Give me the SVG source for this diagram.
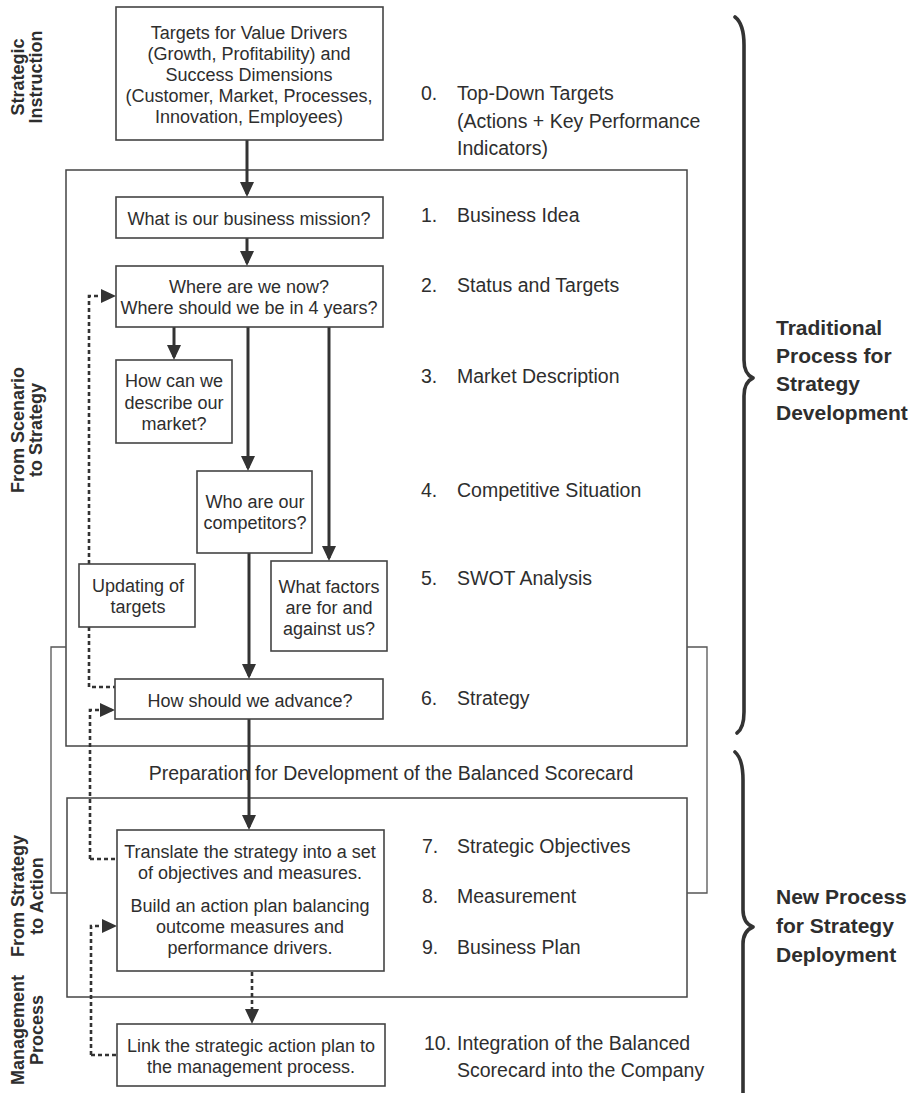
<svg xmlns="http://www.w3.org/2000/svg" width="919" height="1093" viewBox="0 0 919 1093">
<style>
text{font-family:"Liberation Sans",Arial,sans-serif;fill:#2e2e2e}
.bx{font-size:18px;text-anchor:middle}
.rc{font-size:19.5px}
.side{font-size:18px;font-weight:bold;text-anchor:middle}
.grp{font-size:21px;font-weight:bold}
.box{fill:#fff;stroke:#444;stroke-width:1.6}
.frame{fill:none;stroke:#444;stroke-width:1.5}
.thin{fill:none;stroke:#555;stroke-width:1.3}
.arr{fill:none;stroke:#333;stroke-width:3;marker-end:url(#ah)}
.dash{fill:none;stroke:#333;stroke-width:2.6;stroke-dasharray:4 3}
.dasharr{fill:none;stroke:#333;stroke-width:2.6;stroke-dasharray:4 3;marker-end:url(#ah)}
.brace{fill:none;stroke:#333;stroke-width:3.6;stroke-linecap:round;stroke-linejoin:round}
</style>
<defs>
<marker id="ah" viewBox="0 0 15 14" refX="12" refY="7" markerWidth="15" markerHeight="14" markerUnits="userSpaceOnUse" orient="auto">
<path d="M0,0 L15,7 L0,14 Z" fill="#333"/>
</marker>
</defs>
<rect width="919" height="1093" fill="#fff"/>

<g id="frames">
<rect class="frame" x="66" y="170" width="621" height="576"/>
<rect class="frame" x="67" y="798" width="620" height="199"/>
<path class="thin" d="M66,647 H51 V893 H67"/>
<path class="thin" d="M687,647 H707 V893 H687"/>
</g>

<g id="side-labels">
<text class="side" transform="translate(24,77) rotate(-90)">Strategic</text>
<text class="side" transform="translate(42,77) rotate(-90)">Instruction</text>
<text class="side" transform="translate(24,430) rotate(-90)">From Scenario</text>
<text class="side" transform="translate(42,430) rotate(-90)">to Strategy</text>
<text class="side" transform="translate(24,896) rotate(-90)">From Strategy</text>
<text class="side" transform="translate(43,896) rotate(-90)">to Action</text>
<text class="side" transform="translate(24,1030) rotate(-90)">Management</text>
<text class="side" transform="translate(43,1030) rotate(-90)">Process</text>
</g>

<g id="connectors">
<path class="arr" d="M247,140 V194"/>
<path class="arr" d="M247,238 V263"/>
<path class="arr" d="M174,327 V357"/>
<path class="arr" d="M248,327 V468"/>
<path class="arr" d="M329,327 V558"/>
<path class="arr" d="M249,553 V676"/>
<path class="arr" d="M249,719 V827"/>
<path class="dasharr" d="M252,972 V1021"/>
<path class="dasharr" d="M89,564 V296 H113"/>
<path class="dash" d="M89,627 V687 H115"/>
<path class="dasharr" d="M90,859 V710 H112"/>
<path class="dash" d="M90,859 H117"/>
<path class="dasharr" d="M91,1055 V926 H114"/>
<path class="dash" d="M91,1055 H117"/>
</g>

<g id="n0">
<rect class="box" x="116" y="7" width="267" height="133"/>
<text class="bx" x="249" y="39">Targets for Value Drivers</text>
<text class="bx" x="249" y="60">(Growth, Profitability) and</text>
<text class="bx" x="249" y="81">Success Dimensions</text>
<text class="bx" x="249" y="102">(Customer, Market, Processes,</text>
<text class="bx" x="249" y="123">Innovation, Employees)</text>
</g>
<g id="n1">
<rect class="box" x="116" y="197" width="267" height="41"/>
<text class="bx" x="249" y="225">What is our business mission?</text>
</g>
<g id="n2">
<rect class="box" x="116" y="266" width="267" height="61"/>
<text class="bx" x="249" y="293">Where are we now?</text>
<text class="bx" x="249" y="314">Where should we be in 4 years?</text>
</g>
<g id="n3">
<rect class="box" x="116" y="360" width="116" height="83"/>
<text class="bx" x="174" y="387">How can we</text>
<text class="bx" x="174" y="409">describe our</text>
<text class="bx" x="174" y="430">market?</text>
</g>
<g id="n4">
<rect class="box" x="197" y="471" width="115" height="82"/>
<text class="bx" x="255" y="508">Who are our</text>
<text class="bx" x="255" y="529">competitors?</text>
</g>
<g id="n-update">
<rect class="box" x="79" y="564" width="116" height="63"/>
<text class="bx" x="138" y="592">Updating of</text>
<text class="bx" x="138" y="613">targets</text>
</g>
<g id="n5">
<rect class="box" x="271" y="561" width="116" height="90"/>
<text class="bx" x="329" y="593">What factors</text>
<text class="bx" x="329" y="614">are for and</text>
<text class="bx" x="329" y="635">against us?</text>
</g>
<g id="n6">
<rect class="box" x="115" y="679" width="268" height="40"/>
<text class="bx" x="250" y="707">How should we advance?</text>
</g>
<g id="n7">
<rect class="box" x="117" y="830" width="267" height="141"/>
<text class="bx" x="250" y="858">Translate the strategy into a set</text>
<text class="bx" x="250" y="879">of objectives and measures.</text>
<text class="bx" x="250" y="912">Build an action plan balancing</text>
<text class="bx" x="250" y="933">outcome measures and</text>
<text class="bx" x="250" y="954">performance drivers.</text>
</g>
<g id="n10">
<rect class="box" x="117" y="1024" width="268" height="62"/>
<text class="bx" x="251" y="1052">Link the strategic action plan to</text>
<text class="bx" x="251" y="1073">the management process.</text>
</g>

<g id="prep-label">
<text class="rc" x="391" y="780" text-anchor="middle">Preparation for Development of the Balanced Scorecard</text>
</g>

<g id="steps">
<text class="rc" x="421" y="100">0.</text><text class="rc" x="457" y="100">Top-Down Targets</text>
<text class="rc" x="457" y="128">(Actions + Key Performance</text>
<text class="rc" x="457" y="155">Indicators)</text>
<text class="rc" x="421" y="222">1.</text><text class="rc" x="457" y="222">Business Idea</text>
<text class="rc" x="421" y="292">2.</text><text class="rc" x="457" y="292">Status and Targets</text>
<text class="rc" x="421" y="383">3.</text><text class="rc" x="457" y="383">Market Description</text>
<text class="rc" x="421" y="497">4.</text><text class="rc" x="457" y="497">Competitive Situation</text>
<text class="rc" x="421" y="585">5.</text><text class="rc" x="457" y="585">SWOT Analysis</text>
<text class="rc" x="421" y="705">6.</text><text class="rc" x="457" y="705">Strategy</text>
<text class="rc" x="422" y="853">7.</text><text class="rc" x="457" y="853">Strategic Objectives</text>
<text class="rc" x="422" y="903">8.</text><text class="rc" x="457" y="903">Measurement</text>
<text class="rc" x="422" y="954">9.</text><text class="rc" x="457" y="954">Business Plan</text>
<text class="rc" x="424" y="1050">10.</text><text class="rc" x="457" y="1050">Integration of the Balanced</text>
<text class="rc" x="457" y="1077">Scorecard into the Company</text>
</g>

<g id="brace-traditional">
<path class="brace" d="M735,17 Q744,24 744,45 L744,360 Q744,374 753,378 Q744,382 744,396 L744,712 Q744,728 737,733"/>
<text class="grp" x="776" y="335">Traditional</text>
<text class="grp" x="776" y="363">Process for</text>
<text class="grp" x="776" y="391">Strategy</text>
<text class="grp" x="776" y="420">Development</text>
</g>
<g id="brace-new">
<path class="brace" d="M735,752 Q743,759 743,780 L743,910 Q743,923 753,927 Q743,931 743,944 L743,1095"/>
<text class="grp" x="776" y="904">New Process</text>
<text class="grp" x="776" y="933">for Strategy</text>
<text class="grp" x="776" y="962">Deployment</text>
</g>
</svg>
